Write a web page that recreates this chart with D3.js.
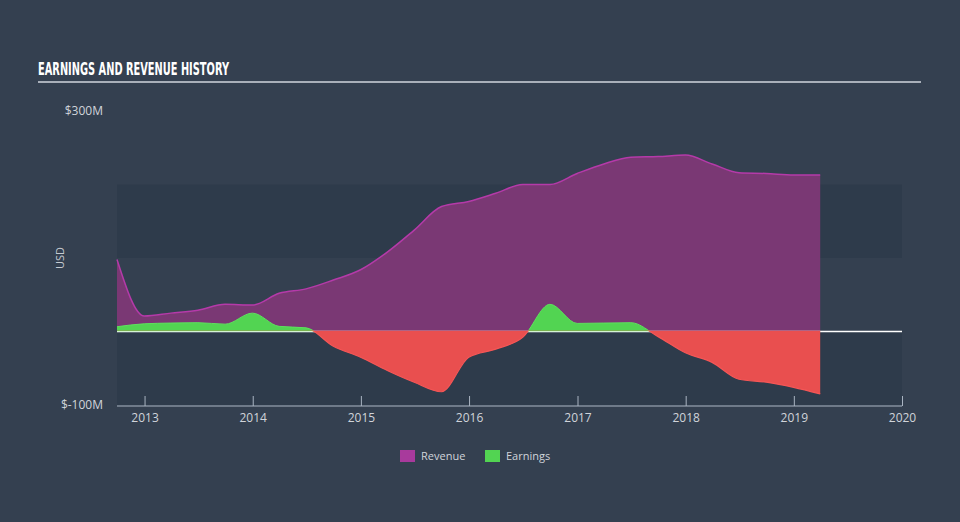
<!DOCTYPE html>
<html><head><meta charset="utf-8">
<script src="https://cdn.jsdelivr.net/npm/d3@7"></script>
<style>
html,body{margin:0;padding:0;background:#344050;}
svg{display:block;}
</style></head><body>
<svg id="chart" width="960" height="522"></svg>
<script>
const quarters = ["2012-09-30","2012-12-31","2013-03-31","2013-06-30","2013-09-30","2013-12-31","2014-03-31","2014-06-30","2014-09-30","2014-12-31","2015-03-31","2015-06-30","2015-09-30","2015-12-31","2016-03-31","2016-06-30","2016-09-30","2016-12-31","2017-03-31","2017-06-30","2017-09-30","2017-12-31","2018-03-31","2018-06-30","2018-09-30","2018-12-31","2019-03-31"];
const revenue = [98,21,25,29,37,36,52,58,70,84,108,138,170,177,188,200,200,215,228,237,238,240,228,216,215,213,213];
const earnings = [6.5,10.5,11.5,12,10,25,7,5,-20,-35,-53,-69,-82,-35,-24,-8,37,11,11.5,12,-7,-29,-42,-65,-69,-76,-85];
const yTicks = [300,-100];
const xTickYears = [2013,2014,2015,2016,2017,2018,2019,2020];
const legendItems = ["Revenue","Earnings"];

const parse = d3.timeParse("%Y-%m-%d");
const data = quarters.map((q,i)=>({date:parse(q), rev:revenue[i], earn:earnings[i]}));

const svg = d3.select("#chart");
const W=960,H=522;
svg.append("rect").attr("width",W).attr("height",H).attr("fill","#344050");

const x = d3.scaleTime().domain([parse("2012-09-30"), parse("2020-01-01")]).range([117,902]);
const y = d3.scaleLinear().domain([-100,300]).range([405,111]);

// bands
[[-100,0],[100,200]].forEach(b=>{
  svg.append("rect").attr("x",117).attr("width",902-117)
    .attr("y",y(b[1])).attr("height",y(b[0])-y(b[1])).attr("fill","#2e3b4b");
});

// title
svg.append("text").attr("x",38).attr("y",75).text("EARNINGS AND REVENUE HISTORY")
  .attr("font-family","'Liberation Sans Narrow','DejaVu Sans Condensed',sans-serif")
  .attr("font-weight","bold").attr("font-size",17.5).attr("fill","#ffffff")
  .attr("textLength",191).attr("lengthAdjust","spacingAndGlyphs");
svg.append("line").attr("x1",38).attr("x2",921).attr("y1",82).attr("y2",82)
  .attr("stroke","#a9b0ba").attr("stroke-width",2);

const curve = d3.curveMonotoneX;

// revenue area
const revArea = d3.area().x(d=>x(d.date)).y0(y(0)).y1(d=>y(d.rev)).curve(curve);
const revLine = d3.line().x(d=>x(d.date)).y(d=>y(d.rev)).curve(curve);
svg.append("path").datum(data).attr("d",revArea).attr("fill","#7a3874");
svg.append("path").datum(data).attr("d",revLine).attr("fill","none").attr("stroke","#b53aa9").attr("stroke-width",1.5);

// zero line (under earnings areas)
svg.append("line").attr("x1",117).attr("x2",902).attr("y1",y(0)).attr("y2",y(0))
  .attr("stroke","#ffffff").attr("stroke-width",1.5);

// earnings with clipping
const defs = svg.append("defs");
defs.append("clipPath").attr("id","above").append("rect").attr("x",0).attr("y",0).attr("width",W).attr("height",y(0));
defs.append("clipPath").attr("id","below").append("rect").attr("x",0).attr("y",y(0)-1).attr("width",W).attr("height",H-y(0)+1);
const earnArea = d3.area().x(d=>x(d.date)).y0(y(0)).y1(d=>y(d.earn)).curve(curve);
const earnAreaNeg = d3.area().x(d=>x(d.date)).y0(y(0)-1).y1(d=>y(d.earn)).curve(curve);
const earnLine = d3.line().x(d=>x(d.date)).y(d=>y(d.earn)).curve(curve);
svg.append("path").datum(data).attr("d",earnArea).attr("fill","#52d452").attr("clip-path","url(#above)");
svg.append("path").datum(data).attr("d",earnLine).attr("fill","none").attr("stroke","#5ee05e").attr("stroke-width",1).attr("clip-path","url(#above)");
svg.append("path").datum(data).attr("d",earnAreaNeg).attr("fill","#e94f4f").attr("clip-path","url(#below)");
svg.append("path").datum(data).attr("d",earnLine).attr("fill","none").attr("stroke","#f55656").attr("stroke-width",1.2).attr("clip-path","url(#below)");

// x axis
const xAxis = d3.axisBottom(x).tickValues(xTickYears.map(yr=>new Date(yr,0,1)))
  .tickFormat(d3.timeFormat("%Y")).tickSize(-10).tickPadding(14);
const gx = svg.append("g").attr("transform",`translate(0,406)`).call(xAxis);
gx.select(".domain").attr("stroke","#a9b4c2").attr("d",`M117,0H902`);
gx.selectAll(".tick line").attr("stroke","#a9b4c2");
gx.selectAll("text").attr("fill","#d0d4da").attr("font-size",12)
  .attr("font-family","'Open Sans',sans-serif").attr("dy","0.2em");

// y tick labels
yTicks.forEach(v=>{
  svg.append("text").attr("x",103).attr("y",y(v)).attr("dy","0.35em").attr("text-anchor","end")
    .text(`$${v}M`).attr("fill","#d0d4da").attr("font-size",12)
    .attr("font-family","'Open Sans',sans-serif");
});
svg.append("text").attr("transform","translate(64,258) rotate(-90)").attr("text-anchor","middle")
  .text("USD").attr("fill","#c6cbd2").attr("font-size",11).attr("font-family","'Open Sans',sans-serif");

// legend
const legColors = ["#a83a9c","#52d452"];
const legX = [400,485];
legendItems.forEach((t,i)=>{
  svg.append("rect").attr("x",legX[i]).attr("y",450).attr("width",15).attr("height",12).attr("fill",legColors[i]);
  svg.append("text").attr("x",legX[i]+21).attr("y",456).attr("dy","0.35em").text(t)
    .attr("fill","#d0d4da").attr("font-size",11).attr("font-family","'Open Sans',sans-serif");
});
</script>
</body></html>
